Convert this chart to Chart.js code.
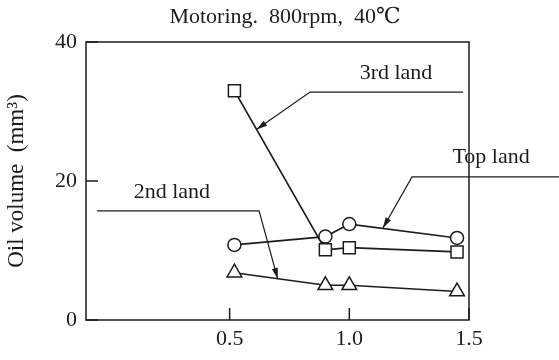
<!DOCTYPE html>
<html>
<head>
<meta charset="utf-8">
<script src="https://cdn.jsdelivr.net/npm/chart.js@4"></script>
<style>
  html, body { margin: 0; padding: 0; background: #fff; }
  #wrap { width: 559px; height: 360px; }
</style>
</head>
<body>
<div id="wrap"><canvas id="oilChart" width="559" height="360"></canvas></div>
<script>
// Values
const titleText = 'Motoring.  800rpm,  40\u2103';
const speedRatio = [0.52, 0.9, 1.0, 1.45];
const topLand = [10.8, 12.0, 13.8, 11.8];
const secondLand = [6.8, 5.0, 5.0, 4.1];
const thirdLand = [33.0, 10.1, 10.4, 9.8];
const xTicks = [0.5, 1.0, 1.5];
const yTicks = [0, 20, 40];

// Leader lines for the series labels, in data units: [label pos, line start, corner, arrow tip]
const callouts = [
    { text: '3rd land', at: [1.195, 35.5], path: [[1.475, 32.8], [0.836, 32.8], [0.612, 27.4]] },
    { text: 'Top land', at: [1.592, 23.45], path: [[1.876, 20.6], [1.262, 20.6], [1.14, 13.2]] },
    { text: '2nd land', at: [0.259, 18.4], path: [[-0.054, 15.7], [0.623, 15.7], [0.701, 5.9]] }
];

const INK = '#1c1c1c';
const SERIF = "'Liberation Serif', 'DejaVu Serif', serif";

function toPoints(ys) {
    return speedRatio.map((x, i) => ({ x: x, y: ys[i] }));
}

function series(label, ys, style, radius) {
    return {
        label: label,
        data: toPoints(ys),
        borderColor: INK,
        borderWidth: 1.7,
        backgroundColor: '#fff',
        pointStyle: style,
        pointRadius: radius,
        pointBorderWidth: 1.5,
        pointBorderColor: INK,
        pointBackgroundColor: '#fff',
        tension: 0
    };
}

// frame, inward ticks, callouts and the title
const decorations = {
    id: 'decorations',
    afterDraw(chart) {
        const ctx = chart.ctx;
        const area = chart.chartArea;
        const xs = chart.scales.x;
        const ys = chart.scales.y;
        ctx.save();
        ctx.strokeStyle = INK;
        ctx.fillStyle = INK;
        ctx.lineWidth = 1.5;
        ctx.strokeRect(area.left, area.top, area.right - area.left, area.bottom - area.top);

        // ticks pointing into the plot
        ctx.beginPath();
        xs.ticks.forEach(t => {
            const px = xs.getPixelForValue(t.value);
            ctx.moveTo(px, area.bottom);
            ctx.lineTo(px, area.bottom - 12);
        });
        ys.ticks.forEach(t => {
            const py = ys.getPixelForValue(t.value);
            ctx.moveTo(area.left, py);
            ctx.lineTo(area.left + 12, py);
        });
        ctx.stroke();

        // callouts
        ctx.lineWidth = 1.2;
        ctx.font = '22px ' + SERIF;
        ctx.textAlign = 'center';
        ctx.textBaseline = 'middle';
        callouts.forEach(c => {
            const pts = c.path.map(p => [xs.getPixelForValue(p[0]), ys.getPixelForValue(p[1])]);
            ctx.beginPath();
            ctx.moveTo(pts[0][0], pts[0][1]);
            for (let i = 1; i < pts.length; i++) ctx.lineTo(pts[i][0], pts[i][1]);
            ctx.stroke();
            // arrow head at the last point
            const a = pts[pts.length - 2], b = pts[pts.length - 1];
            const ang = Math.atan2(b[1] - a[1], b[0] - a[0]);
            ctx.beginPath();
            ctx.moveTo(b[0], b[1]);
            ctx.lineTo(b[0] - 11 * Math.cos(ang) + 3 * Math.sin(ang), b[1] - 11 * Math.sin(ang) - 3 * Math.cos(ang));
            ctx.lineTo(b[0] - 11 * Math.cos(ang) - 3 * Math.sin(ang), b[1] - 11 * Math.sin(ang) + 3 * Math.cos(ang));
            ctx.closePath();
            ctx.fill();
            ctx.fillText(c.text, xs.getPixelForValue(c.at[0]), ys.getPixelForValue(c.at[1]));
        });

        ctx.font = '22px ' + SERIF;
        ctx.fillText(titleText, 285, 17);
        ctx.restore();
    }
};

new Chart(document.getElementById('oilChart'), {
    type: 'line',
    data: {
        datasets: [
            series('Top land', topLand, 'circle', 6.5),
            series('3rd land', thirdLand, 'rect', 8.5),
            series('2nd land', secondLand, 'triangle', 8.5)
        ]
    },
    options: {
        responsive: false,
        animation: false,
        layout: { padding: { top: 42, right: 90, bottom: 0, left: 0 } },
        plugins: {
            legend: { display: false },
            tooltip: { enabled: false }
        },
        scales: {
            x: {
                type: 'linear',
                min: -0.1,
                max: 1.5,
                afterBuildTicks: scale => { scale.ticks = xTicks.map(v => ({ value: v })); },
                afterFit: scale => { scale.height = 40; },
                grid: { display: false, drawTicks: false },
                border: { display: false },
                ticks: {
                    color: INK,
                    padding: 6,
                    font: { family: SERIF, size: 22 },
                    callback: v => v.toFixed(1)
                }
            },
            y: {
                type: 'linear',
                min: 0,
                max: 40,
                afterBuildTicks: scale => { scale.ticks = yTicks.map(v => ({ value: v })); },
                afterFit: scale => { scale.width = 86; },
                grid: { display: false, drawTicks: false },
                border: { display: false },
                title: {
                    display: true,
                    text: 'Oil volume  (mm\u00b3)',
                    color: INK,
                    font: { family: SERIF, size: 23 },
                    padding: { top: 3, bottom: 4 }
                },
                ticks: {
                    color: INK,
                    padding: 9,
                    font: { family: SERIF, size: 22 }
                }
            }
        }
    },
    plugins: [decorations]
});
</script>
</body>
</html>
